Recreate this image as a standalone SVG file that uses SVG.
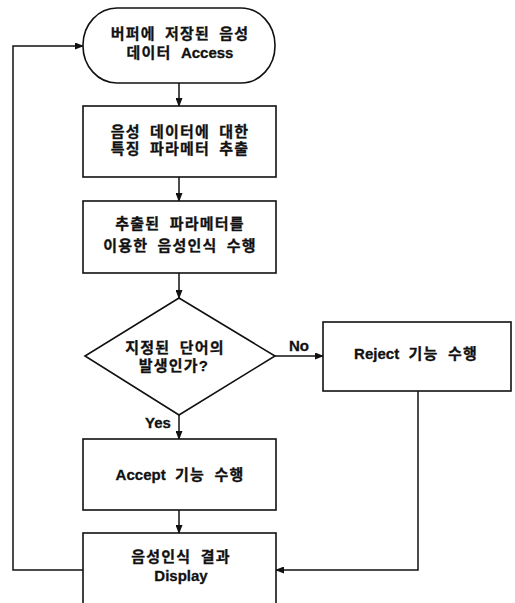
<svg xmlns="http://www.w3.org/2000/svg" width="515" height="603" viewBox="0 0 515 603">
<defs>
<marker id="ah" markerUnits="userSpaceOnUse" markerWidth="9" markerHeight="7" refX="8" refY="3.5" orient="auto">
<path d="M0,0 L9,3.5 L0,7 z" fill="#111"/>
</marker>
<style>
.shape{fill:#fff;stroke:#111;stroke-width:1.6}
.conn{fill:none;stroke:#111;stroke-width:1.5;marker-end:url(#ah)}
text{font-family:"Liberation Sans","Noto Sans CJK KR",sans-serif;font-weight:bold;font-size:15px;fill:#111;text-anchor:middle;letter-spacing:1.2px;word-spacing:4px;stroke:#111;stroke-width:0.3px}
.lbl{letter-spacing:0;word-spacing:0}
.lt{letter-spacing:0}
</style>
</defs>
<rect width="515" height="603" fill="#fff"/>
<g id="connectors">
<line class="conn" x1="179" y1="82" x2="179" y2="106"/>
<line class="conn" x1="179" y1="177" x2="179" y2="201"/>
<line class="conn" x1="179" y1="273" x2="179" y2="298"/>
<line class="conn" x1="275" y1="356" x2="323" y2="356"/>
<line class="conn" x1="179" y1="415" x2="179" y2="439"/>
<line class="conn" x1="179" y1="510" x2="179" y2="533"/>
<polyline class="conn" points="418,391 418,570 276,570"/>
<polyline class="conn" points="83,570 13,570 13,46 83,46"/>
<text class="lbl" x="299" y="351">No</text>
<text class="lbl" x="158" y="428">Yes</text>
</g>
<g id="start">
<rect class="shape" x="83" y="8" width="192" height="75" rx="34" ry="37"/>
<text x="180" y="39">버퍼에 저장된 음성</text>
<text x="180" y="58">데이터 <tspan class="lt">Access</tspan></text>
</g>
<g id="extract">
<rect class="shape" x="83" y="106" width="193" height="71"/>
<text x="180" y="137">음성 데이터에 대한</text>
<text x="180" y="154">특징 파라메터 추출</text>
</g>
<g id="recognize">
<rect class="shape" x="83" y="201" width="193" height="72"/>
<text x="180" y="229">추출된 파라메터를</text>
<text x="180" y="251">이용한 음성인식 수행</text>
</g>
<g id="decision">
<polygon class="shape" points="179,298 275,356 179,415 85,356"/>
<text x="175" y="353">지정된 단어의</text>
<text x="174" y="371">발생인가?</text>
</g>
<g id="reject">
<rect class="shape" x="323" y="322" width="188" height="69"/>
<text x="416" y="359"><tspan class="lt">Reject</tspan> 기능 수행</text>
</g>
<g id="accept">
<rect class="shape" x="83" y="439" width="193" height="71"/>
<text x="180" y="480"><tspan class="lt">Accept</tspan> 기능 수행</text>
</g>
<g id="display">
<rect class="shape" x="83" y="533" width="193" height="80"/>
<text x="181" y="562">음성인식 결과</text>
<text class="lbl" x="181" y="581">Display</text>
</g>
</svg>
